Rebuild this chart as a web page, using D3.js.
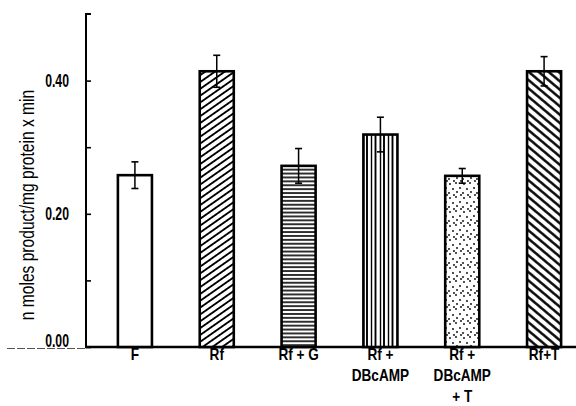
<!DOCTYPE html>
<html><head><meta charset="utf-8">
<script src="https://cdn.jsdelivr.net/npm/d3@7"></script>
<style>body{margin:0;background:#fff}svg{display:block}text{font-family:"Liberation Sans",Arial,sans-serif;fill:#000}</style>
</head><body><svg id="c" width="576" height="406"></svg>
<script>
const categories = [["F"],["Rf"],["Rf + G"],["Rf +","DBcAMP"],["Rf +","DBcAMP","+ T"],["Rf+T"]];
const values = [0.258, 0.414, 0.272, 0.319, 0.257, 0.414];
const errors = [0.020, 0.024, 0.026, 0.026, 0.011, 0.022];
const patterns = ["none","diagUp","horiz","vert","dots","diagDown"];
const tickValues = [0, 0.1, 0.2, 0.3, 0.4];
const tickLabels = {"0":"0.00","0.2":"0.20","0.4":"0.40"};
const yLabel = "n moles product/mg protein x min";

const svg = d3.select("#c");
const axisX = 86, baseY = 347;
const y = d3.scaleLinear().domain([0, 0.5]).range([baseY, 14]);
const x = d3.scaleBand().domain(d3.range(categories.length)).range([94, 585]).paddingInner(0.584).paddingOuter(0.292);

const defs = svg.append("defs");
function linePat(id, w, angle, sw){
  const p = defs.append("pattern").attr("id", id).attr("patternUnits","userSpaceOnUse")
    .attr("width", w).attr("height", w).attr("patternTransform", `rotate(${angle})`);
  p.append("rect").attr("width", w).attr("height", w).attr("fill","#fff");
  p.append("line").attr("x1",0).attr("y1",w/2).attr("x2",w).attr("y2",w/2).attr("stroke","#000").attr("stroke-width",sw);
}
linePat("diagUp", 5.6, -35, 1.9);
linePat("diagDown", 6.4, 40, 2.4);
linePat("horiz", 3.9, 0, 1.6);
{
  const p = defs.append("pattern").attr("id","vert").attr("patternUnits","userSpaceOnUse").attr("width",17).attr("height",10);
  p.append("rect").attr("width",17).attr("height",10).attr("fill","#fff");
  [1.5, 6.5, 10, 14.5].forEach((vx,i)=>p.append("line").attr("x1",vx).attr("x2",vx).attr("y1",0).attr("y2",10)
    .attr("stroke","#000").attr("stroke-width", i%2?1.4:1.9));
}
{
  const p = defs.append("pattern").attr("id","dots").attr("patternUnits","userSpaceOnUse").attr("width",14).attr("height",14);
  p.append("rect").attr("width",14).attr("height",14).attr("fill","#fff");
  [[2,2],[8,1],[12,6],[5,7],[1,11],[9,10],[13,13],[6,13]].forEach(d=>p.append("circle").attr("cx",d[0]).attr("cy",d[1]).attr("r",0.9).attr("fill","#000"));
}

// baseline
svg.append("line").attr("x1",7).attr("x2",axisX).attr("y1",baseY+1.5).attr("y2",baseY+1.5)
  .attr("stroke","#555").attr("stroke-width",1).attr("stroke-dasharray","8,2");
svg.append("line").attr("x1",axisX-1).attr("x2",576).attr("y1",baseY).attr("y2",baseY).attr("stroke","#000").attr("stroke-width",2.6);

// y axis
const yAxis = d3.axisRight(y).tickValues(tickValues).tickSize(5).tickFormat("");
const ga = svg.append("g").attr("transform",`translate(${axisX},0)`).call(yAxis);
ga.select(".domain").attr("d",`M5,${y(0.5)}H0V${baseY}`).attr("stroke","#000").attr("stroke-width",2).attr("fill","none");
ga.selectAll(".tick line").attr("stroke","#000").attr("stroke-width",1.6);
svg.append("g").selectAll("g").data(tickValues.filter(v=>tickLabels[String(v)]!==undefined)).join("g")
  .attr("transform",d=>`translate(69,${y(d)}) scale(0.7,1)`)
  .append("text").attr("dy",d=>d===0?"0.0em":"0.36em").attr("text-anchor","end")
  .attr("font-size",17.5).attr("font-weight","bold").text(d=>tickLabels[String(d)]);

// y label
svg.append("text").attr("transform","translate(34,205) rotate(-90) scale(0.8,1)").attr("text-anchor","middle")
  .attr("font-size",19.5).text(yLabel);

// bars
const g = svg.append("g");
g.selectAll("rect.bar").data(values).join("rect").attr("class","bar")
  .attr("x",(d,i)=>x(i)).attr("width",x.bandwidth()).attr("y",d=>y(d)).attr("height",d=>baseY-y(d))
  .attr("fill",(d,i)=>patterns[i]==="none"?"#fff":`url(#${patterns[i]})`).attr("stroke","#000").attr("stroke-width",2.6);

// error bars
const eb = g.selectAll("g.err").data(values).join("g").attr("class","err");
eb.append("line").attr("x1",(d,i)=>x(i)+x.bandwidth()/2).attr("x2",(d,i)=>x(i)+x.bandwidth()/2)
  .attr("y1",(d,i)=>y(d+errors[i])).attr("y2",(d,i)=>y(d-errors[i])).attr("stroke","#000").attr("stroke-width",1.5);
[1,-1].forEach(s=>eb.append("line").attr("x1",(d,i)=>x(i)+x.bandwidth()/2-3.5).attr("x2",(d,i)=>x(i)+x.bandwidth()/2+3.5)
  .attr("y1",(d,i)=>y(d+s*errors[i])).attr("y2",(d,i)=>y(d+s*errors[i])).attr("stroke","#000").attr("stroke-width",1.6));

// category labels
const lg = svg.append("g").selectAll("g").data(categories).join("g")
  .attr("transform",(d,i)=>`translate(${x(i)+x.bandwidth()/2},0) scale(0.85,1)`)
  .append("text").attr("text-anchor","middle").attr("font-size",16).attr("font-weight","bold");
lg.each(function(lines){
  const t = d3.select(this);
  lines.forEach((l,j)=>t.append("tspan").attr("x",0).attr("y",360+j*21).text(l));
});
</script></body></html>
